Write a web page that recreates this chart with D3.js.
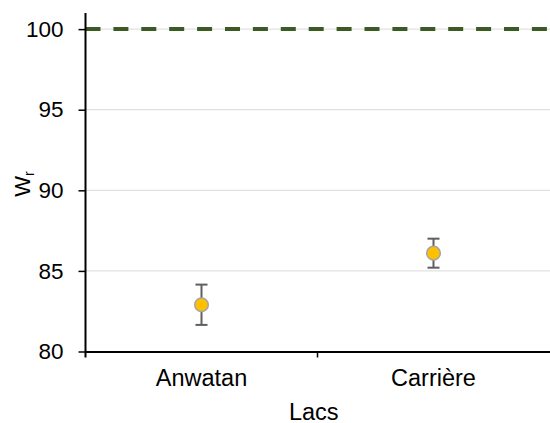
<!DOCTYPE html>
<html>
<head>
<meta charset="utf-8">
<script src="https://d3js.org/d3.v7.min.js"></script>
<style>
  body { margin: 0; background: #fff; }
  text { font-family: Arial, "Liberation Sans", sans-serif; fill: #000; }
</style>
</head>
<body>
<div id="my_dataviz"></div>
<script>
// data
var lakes = ["Anwatan", "Carrière"];
var wrMean = [82.9, 86.1];
var wrLow = [81.65, 85.2];
var wrHigh = [84.15, 87.0];
var yTicks = [80, 85, 90, 95, 100];
var reference = 100;

// set the dimensions and margins of the graph
var W = 550, H = 423;
var margin = {top: 13, right: 0, bottom: 71.5, left: 85.5},
    width = W - margin.left - margin.right,
    height = H - margin.top - margin.bottom;

var svg = d3.select("#my_dataviz")
  .append("svg")
    .attr("width", W)
    .attr("height", H)
  .append("g")
    .attr("transform", "translate(" + margin.left + "," + margin.top + ")");

// scales
var xScale = d3.scaleBand().domain(lakes).range([0, width - 0.5]);
var yScale = d3.scaleLinear().domain([80, 101]).range([height, 0]);

// gridlines
svg.append("g")
  .selectAll("line")
  .data(yTicks.slice(1))
  .join("line")
    .attr("x1", 0)
    .attr("x2", width)
    .attr("y1", d => yScale(d))
    .attr("y2", d => yScale(d))
    .attr("stroke", "#d9d9d9")
    .attr("stroke-width", 1);

// reference line at 100
svg.append("line")
    .attr("x1", 0)
    .attr("x2", width)
    .attr("y1", yScale(reference))
    .attr("y2", yScale(reference))
    .attr("stroke", "#3b5a24")
    .attr("stroke-width", 4)
    .attr("stroke-dasharray", "15,12.9");

// y axis
var yAxis = svg.append("g")
    .call(d3.axisLeft(yScale).tickValues(yTicks).tickSize(7).tickPadding(15).tickSizeOuter(0));
yAxis.select(".domain").attr("stroke", "#000").attr("stroke-width", 2)
    .attr("d", "M0," + (height + 6) + "V0");
yAxis.selectAll(".tick line").attr("stroke", "#000").attr("stroke-width", 1.5);
yAxis.selectAll("text").style("font-size", "22.5px");

// x axis
var xAxis = svg.append("g")
    .attr("transform", "translate(0," + height + ")")
    .call(d3.axisBottom(xScale).tickSize(0).tickPadding(17.5));
xAxis.select(".domain").attr("stroke", "#000").attr("stroke-width", 2);
xAxis.selectAll("text").style("font-size", "23.5px");
xAxis.selectAll(".edge")
  .data(lakes.slice(1))
  .join("line")
    .attr("x1", d => xScale(d))
    .attr("x2", d => xScale(d))
    .attr("y1", 0)
    .attr("y2", 6)
    .attr("stroke", "#000")
    .attr("stroke-width", 1.5);

// error bars
var err = svg.append("g")
  .selectAll("g")
  .data(lakes)
  .join("g")
    .attr("stroke", "#5f5f5f")
    .attr("stroke-width", 2);

err.append("line")
    .attr("x1", d => xScale(d) + xScale.bandwidth() / 2)
    .attr("x2", d => xScale(d) + xScale.bandwidth() / 2)
    .attr("y1", (d, i) => yScale(wrLow[i]))
    .attr("y2", (d, i) => yScale(wrHigh[i]));
err.append("line")
    .attr("x1", d => xScale(d) + xScale.bandwidth() / 2 - 6)
    .attr("x2", d => xScale(d) + xScale.bandwidth() / 2 + 6)
    .attr("y1", (d, i) => yScale(wrLow[i]))
    .attr("y2", (d, i) => yScale(wrLow[i]));
err.append("line")
    .attr("x1", d => xScale(d) + xScale.bandwidth() / 2 - 6)
    .attr("x2", d => xScale(d) + xScale.bandwidth() / 2 + 6)
    .attr("y1", (d, i) => yScale(wrHigh[i]))
    .attr("y2", (d, i) => yScale(wrHigh[i]));

// points
svg.append("g")
  .selectAll("circle")
  .data(lakes)
  .join("circle")
    .attr("cx", d => xScale(d) + xScale.bandwidth() / 2)
    .attr("cy", (d, i) => yScale(wrMean[i]))
    .attr("r", 6.8)
    .attr("fill", "#ffc000")
    .attr("stroke", "#a5a5a5")
    .attr("stroke-width", 1.5);

// axis titles
svg.append("text")
    .attr("x", width / 2 - 4)
    .attr("y", height + 68)
    .attr("text-anchor", "middle")
    .style("font-size", "23.5px")
    .text("Lacs");

var yTitle = svg.append("g")
    .attr("transform", "translate(" + (30 - margin.left) + "," + (184 - margin.top) + ")")
  .append("g")
    .attr("transform", "rotate(-90)")
  .append("text")
    .attr("text-anchor", "middle")
    .style("font-size", "22px");
yTitle.append("tspan").text("W");
yTitle.append("tspan").attr("dy", 4).style("font-size", "14px").text("r");

</script>
</body>
</html>
